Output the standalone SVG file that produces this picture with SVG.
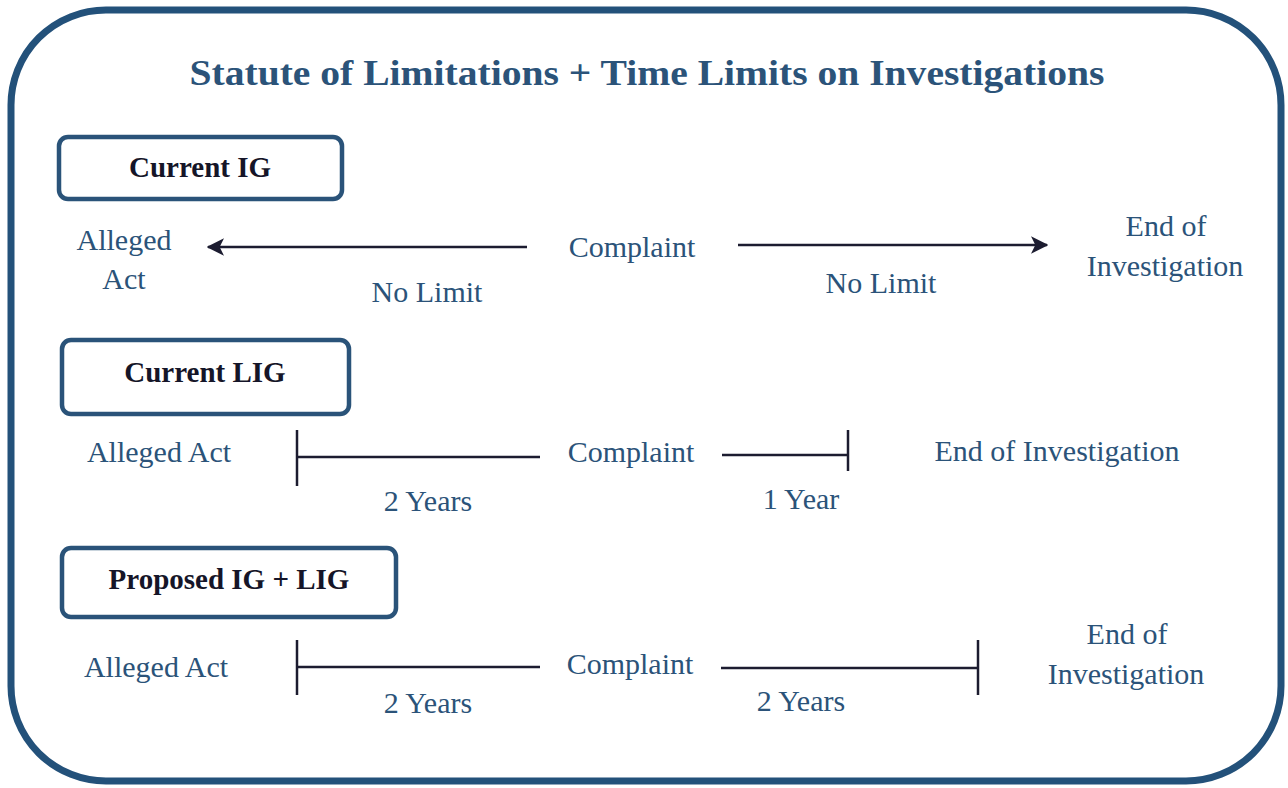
<svg xmlns="http://www.w3.org/2000/svg" width="1288" height="788" viewBox="0 0 1288 788">
<style>
.t{font-family:"Liberation Serif","Times New Roman",serif;font-size:30px;fill:#2b5379;text-anchor:middle}
.title{font-family:"Liberation Serif","Times New Roman",serif;font-size:35px;font-weight:bold;fill:#2b5379;text-anchor:middle}
.bl{font-family:"Liberation Serif","Times New Roman",serif;font-size:29px;font-weight:bold;fill:#151528;text-anchor:middle}
.box{fill:#fff;stroke:#2a5379;stroke-width:4.5}
.ln{stroke:#1c1c30;stroke-width:2.5;fill:none}
</style>
<defs>
<marker id="ah" viewBox="0 0 12 12" refX="11" refY="6" markerWidth="7" markerHeight="7" orient="auto" markerUnits="strokeWidth">
<path d="M0,0 L12,6 L0,12 L3,6 Z" fill="#1c1c30"/>
</marker>
</defs>
<rect x="0" y="0" width="1288" height="788" fill="#fff"/>
<rect x="11" y="10" width="1270" height="771" rx="95" ry="95" fill="#fff" stroke="#23517a" stroke-width="7"/>
<text class="title" x="647" y="85" textLength="915" lengthAdjust="spacingAndGlyphs">Statute of Limitations + Time Limits on Investigations</text>

<g id="box-current-ig"><rect class="box" x="59" y="137" width="283" height="62" rx="9"/><text class="bl" x="200" y="177">Current IG</text></g>
<g id="box-current-lig"><rect class="box" x="62" y="340" width="287" height="74" rx="9"/><text class="bl" x="205" y="382">Current LIG</text></g>
<g id="box-proposed"><rect class="box" x="62" y="548" width="334" height="69" rx="9"/><text class="bl" x="229" y="589">Proposed IG + LIG</text></g>

<g id="row1-labels">
<text class="t" x="124" y="250">Alleged</text><text class="t" x="124" y="289">Act</text>
<text class="t" x="632" y="257">Complaint</text>
<text class="t" x="427" y="302">No Limit</text>
<text class="t" x="881" y="293">No Limit</text>
<text class="t" x="1166" y="236">End of</text><text class="t" x="1165" y="276">Investigation</text>
</g>
<g id="row2-labels">
<text class="t" x="159" y="462">Alleged Act</text>
<text class="t" x="631" y="462">Complaint</text>
<text class="t" x="428" y="511">2 Years</text>
<text class="t" x="801" y="509">1 Year</text>
<text class="t" x="1057" y="461">End of Investigation</text>
</g>
<g id="row3-labels">
<text class="t" x="156" y="677">Alleged Act</text>
<text class="t" x="630" y="674">Complaint</text>
<text class="t" x="428" y="713">2 Years</text>
<text class="t" x="801" y="711">2 Years</text>
<text class="t" x="1127" y="644">End of</text><text class="t" x="1126" y="684">Investigation</text>
</g>

<g id="connectors">
<line class="ln" x1="527" y1="247" x2="208" y2="247" marker-end="url(#ah)"/>
<line class="ln" x1="738" y1="245" x2="1047" y2="245" marker-end="url(#ah)"/>
<line class="ln" x1="297" y1="457" x2="540" y2="457"/>
<line class="ln" x1="297" y1="430" x2="297" y2="486"/>
<line class="ln" x1="722" y1="455" x2="848" y2="455"/>
<line class="ln" x1="848" y1="430" x2="848" y2="471"/>
<line class="ln" x1="297" y1="667" x2="540" y2="667"/>
<line class="ln" x1="297" y1="640" x2="297" y2="695"/>
<line class="ln" x1="721" y1="668" x2="978" y2="668"/>
<line class="ln" x1="978" y1="640" x2="978" y2="695"/>
</g>
</svg>
